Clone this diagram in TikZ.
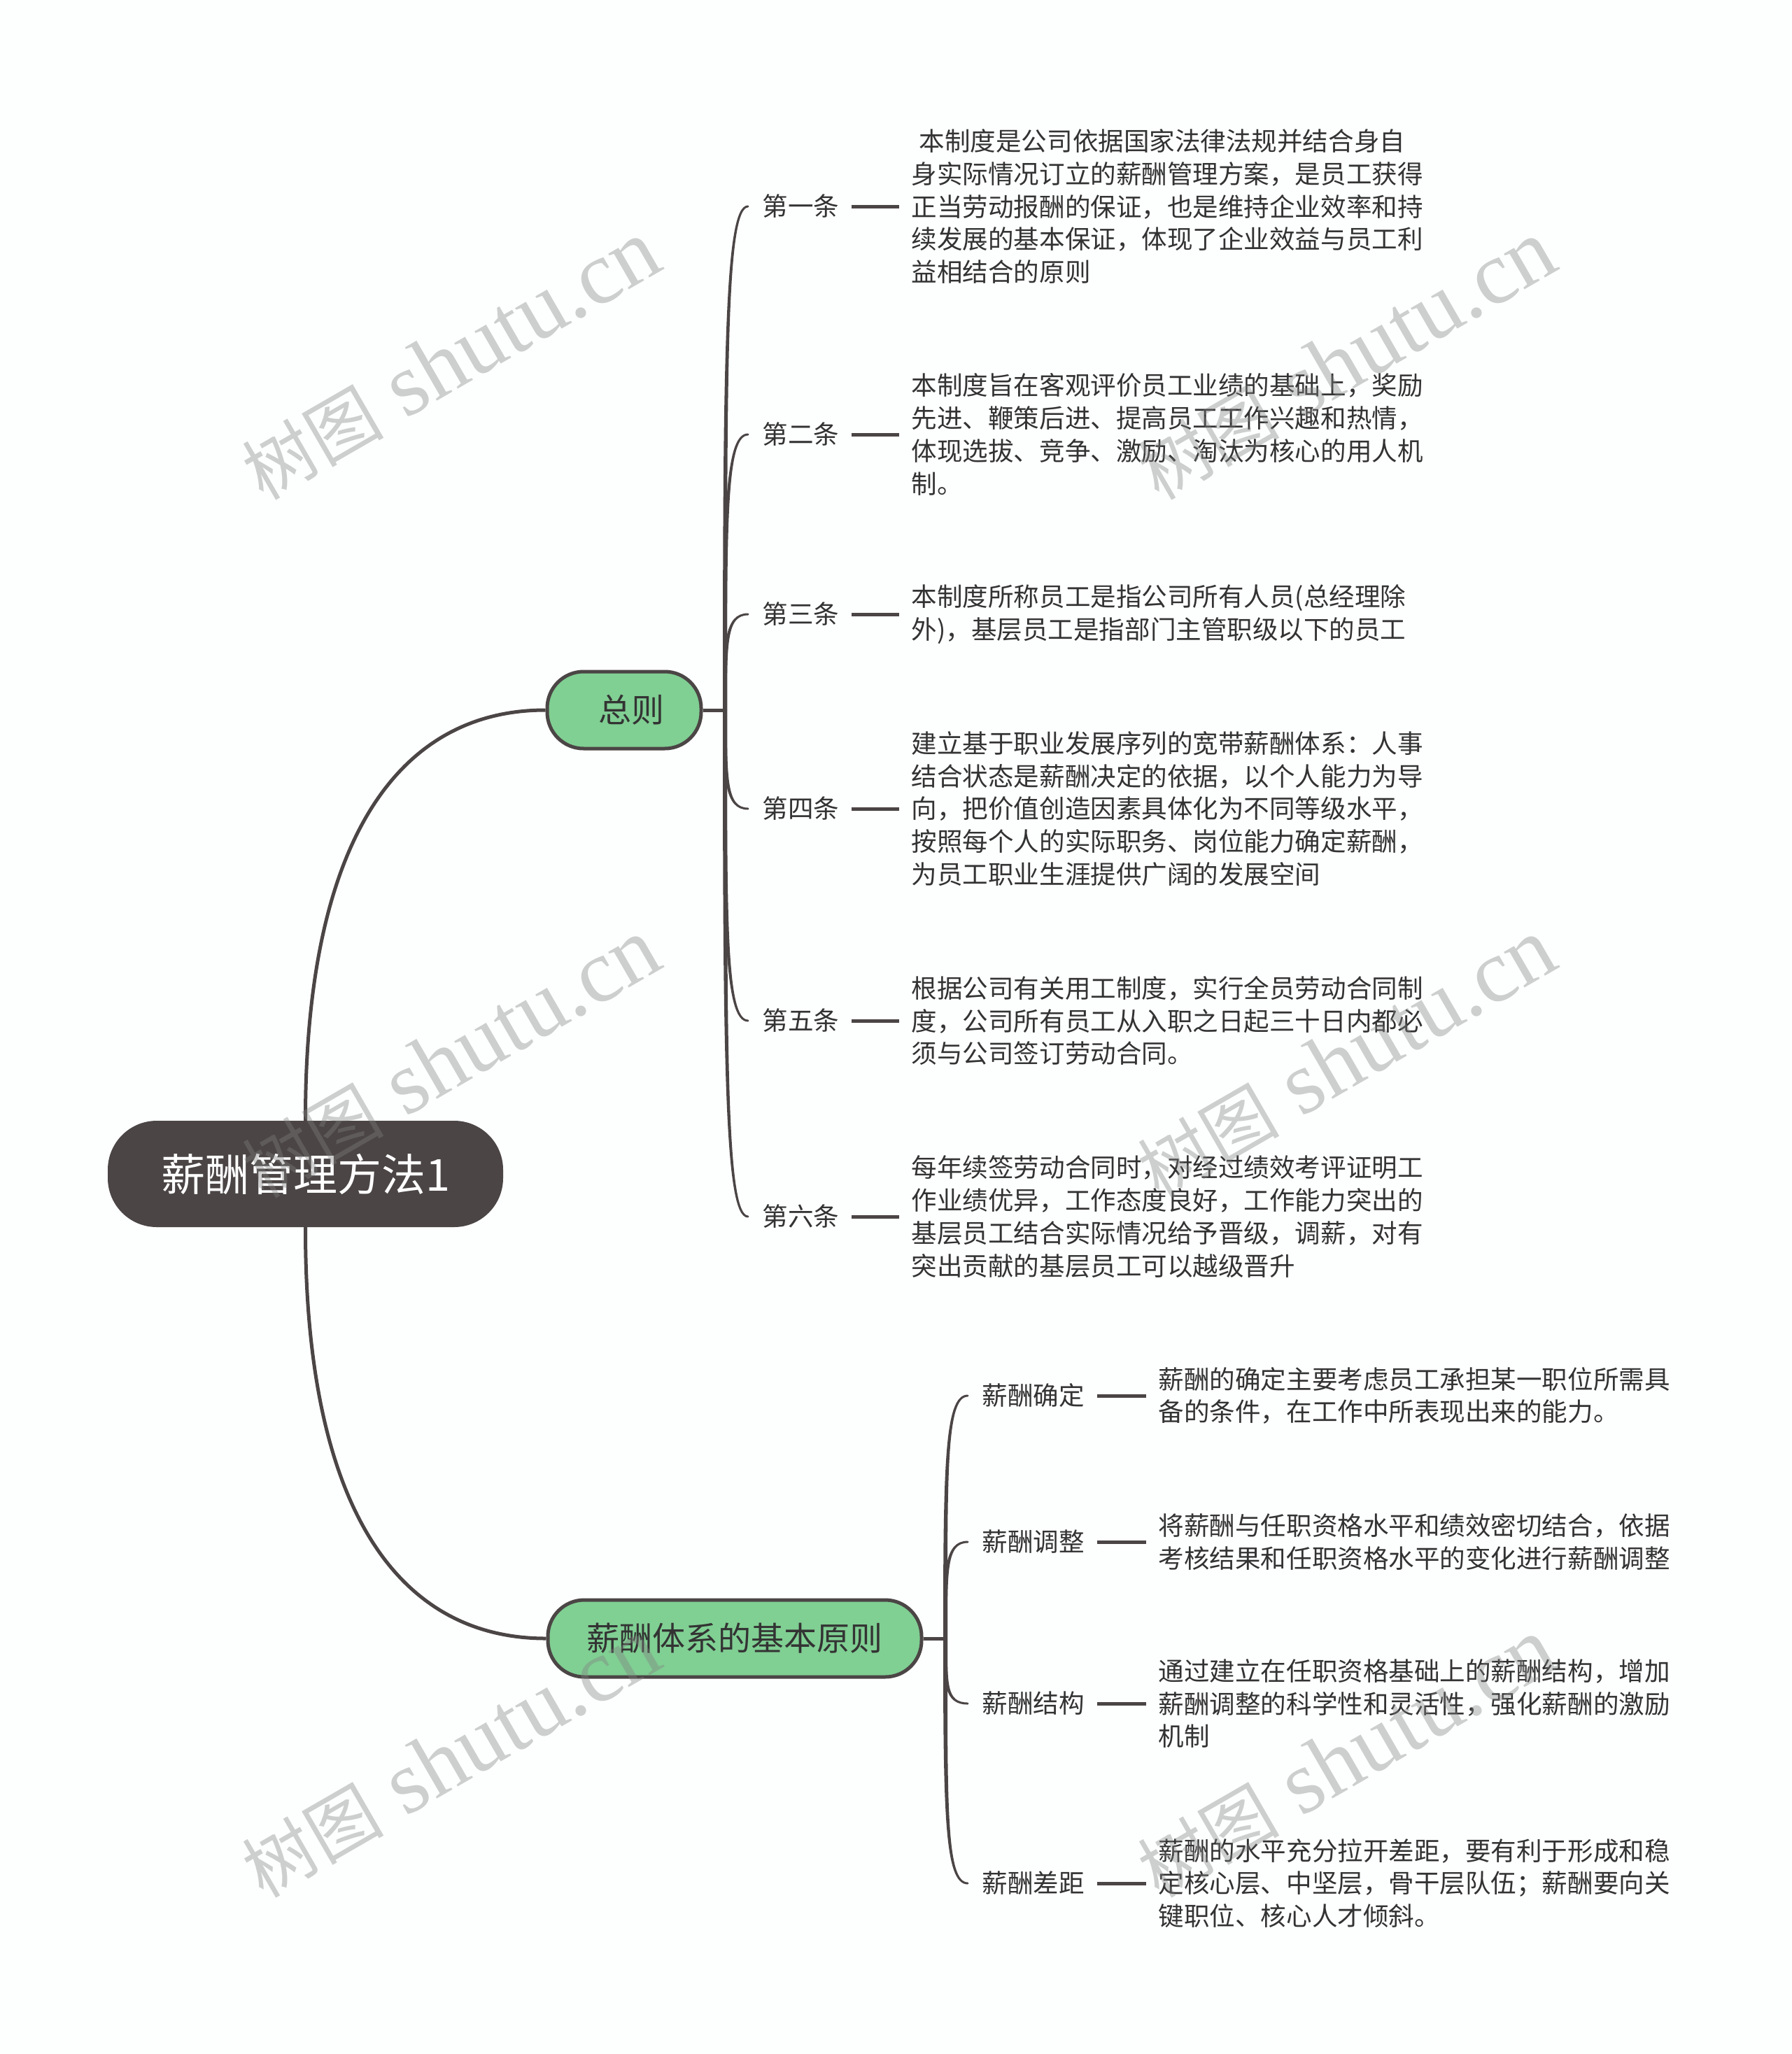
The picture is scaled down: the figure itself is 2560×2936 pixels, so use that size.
\documentclass[tikz,border=0pt]{standalone}
\usepackage{fontspec}
\usepackage{tikz}
\usetikzlibrary{calc}
\setmainfont{Noto Sans CJK SC}
\newfontfamily\markfont{Liberation Serif}
\newfontfamily\markcjk{Noto Sans CJK SC}

\definecolor{inkbrown}{HTML}{4B4545}
\definecolor{leafgreen}{HTML}{80CF93}
\definecolor{textdark}{HTML}{333333}
\definecolor{paperwhite}{HTML}{FDFEFE}

\tikzset{
	rootnode/.style={shape=rectangle, rounded corners=70pt, fill=inkbrown, text=white, minimum width=565pt, minimum height=152pt, font=\fontsize{63}{70}\selectfont},
	mainnode/.style={shape=rectangle, rounded corners=52pt, draw=inkbrown, line width=5pt, fill=leafgreen, text=textdark, minimum height=110pt, font=\fontsize{47}{54}\selectfont},
	itemnode/.style={anchor=west, inner xsep=17.5pt, inner ysep=0pt, text=textdark, font=\fontsize{36.55}{46.8}\selectfont},
	bodynode/.style={anchor=west, align=left, inner xsep=17.5pt, inner ysep=0pt, text=textdark, font=\fontsize{36.55}{46.8}\selectfont},
	bough/.style={draw=inkbrown, line width=5pt},
	twig/.style={draw=inkbrown, fill=inkbrown, line width=3pt, line join=round},
	stub/.style={draw=inkbrown, line width=5pt},
	marknode/.style={rotate=30, text=gray, opacity=.38, font=\fontsize{128}{130}\markfont}
}

\newcommand{\taper}[2]{
	\path[twig] ($(#1)+(-1.5,0)$) .. controls ($(#1)!.7!(#1 |- #2.west)+(-1.5,0)$) and ($(#2.west)+(-35,0)$) .. ($(#2.west)+(-3,0)$) .. controls ($(#2.west)+(-35,0)$) and ($(#1)!.7!(#1 |- #2.west)+(1.5,0)$) .. ($(#1)+(1.5,0)$) -- cycle;
}
\newcommand{\markword}{{\markcjk\fontsize{101}{130}\selectfont 树图} shutu.cn}

\begin{document}
\begin{tikzpicture}[x=1pt,y=-1pt]
	\useasboundingbox[fill=paperwhite] (0,0) rectangle (2560,2936);

	\node[rootnode] (root) at (436.5,1678) {薪酬管理方法1};
	\node[mainnode, minimum width=220pt] (zong) at (892,1015) {\hspace*{20pt}总则};
	\node[mainnode, minimum width=534pt] (yuan) at (1050,2342) {薪酬体系的基本原则};
	\coordinate (zongtrunk) at (1036,1015);
	\coordinate (yuantrunk) at (1351,2342);

	\node[itemnode] (tiao1) at (1072,295) {第一条};
	\node[itemnode] (tiao2) at (1072,621) {第二条};
	\node[itemnode] (tiao3) at (1072,878) {第三条};
	\node[itemnode] (tiao4) at (1072,1156) {第四条};
	\node[itemnode] (tiao5) at (1072,1459) {第五条};
	\node[itemnode] (tiao6) at (1072,1739) {第六条};
	\node[bodynode] (wen1) at (1285,295) {\hspace*{11pt}本制度是公司依据国家法律法规并结合身自\\身实际情况订立的薪酬管理方案，是员工获得\\正当劳动报酬的保证，也是维持企业效率和持\\续发展的基本保证，体现了企业效益与员工利\\益相结合的原则};
	\node[bodynode] (wen2) at (1285,621) {本制度旨在客观评价员工业绩的基础上，奖励\\先进、鞭策后进、提高员工工作兴趣和热情，\\体现选拔、竞争、激励、淘汰为核心的用人机\\制。};
	\node[bodynode] (wen3) at (1285,878) {本制度所称员工是指公司所有人员(总经理除\\外)，基层员工是指部门主管职级以下的员工};
	\node[bodynode] (wen4) at (1285,1156) {建立基于职业发展序列的宽带薪酬体系：人事\\结合状态是薪酬决定的依据，以个人能力为导\\向，把价值创造因素具体化为不同等级水平，\\按照每个人的实际职务、岗位能力确定薪酬，\\为员工职业生涯提供广阔的发展空间};
	\node[bodynode] (wen5) at (1285,1459) {根据公司有关用工制度，实行全员劳动合同制\\度，公司所有员工从入职之日起三十日内都必\\须与公司签订劳动合同。};
	\node[bodynode] (wen6) at (1285,1739) {每年续签劳动合同时，对经过绩效考评证明工\\作业绩优异，工作态度良好，工作能力突出的\\基层员工结合实际情况给予晋级，调薪，对有\\突出贡献的基层员工可以越级晋升};

	\node[itemnode] (xiang1) at (1386,1995) {薪酬确定};
	\node[itemnode] (xiang2) at (1386,2204) {薪酬调整};
	\node[itemnode] (xiang3) at (1386,2435) {薪酬结构};
	\node[itemnode] (xiang4) at (1386,2692) {薪酬差距};
	\node[bodynode] (shuo1) at (1638,1995) {薪酬的确定主要考虑员工承担某一职位所需具\\备的条件，在工作中所表现出来的能力。};
	\node[bodynode] (shuo2) at (1638,2204) {将薪酬与任职资格水平和绩效密切结合，依据\\考核结果和任职资格水平的变化进行薪酬调整};
	\node[bodynode] (shuo3) at (1638,2435) {通过建立在任职资格基础上的薪酬结构，增加\\薪酬调整的科学性和灵活性，强化薪酬的激励\\机制};
	\node[bodynode] (shuo4) at (1638,2692) {薪酬的水平充分拉开差距，要有利于形成和稳\\定核心层、中坚层，骨干层队伍；薪酬要向关\\键职位、核心人才倾斜。};

	\path[bough] (root.north) .. controls (436,1200) and (570,1015) .. (zong.west);
	\path[bough] (root.south) .. controls (436,2158) and (570,2342) .. (yuan.west);
	\path[stub] (zong.east) -- (zongtrunk);
	\path[stub] (yuan.east) -- (yuantrunk);

	\foreach \n in {1,...,6} {
		\taper{zongtrunk}{tiao\n}
		\path[stub] (tiao\n.east) -- (wen\n.west);
	}
	\foreach \n in {1,...,4} {
		\taper{yuantrunk}{xiang\n}
		\path[stub] (xiang\n.east) -- (shuo\n.west);
	}

	\node[marknode] (mark1) at (644,515) {\markword};
	\node[marknode] (mark2) at (1924,515) {\markword};
	\node[marknode] (mark3) at (644,1513) {\markword};
	\node[marknode] (mark4) at (1924,1513) {\markword};
	\node[marknode] (mark5) at (644,2513) {\markword};
	\node[marknode] (mark6) at (1924,2513) {\markword};
\end{tikzpicture}
\end{document}
